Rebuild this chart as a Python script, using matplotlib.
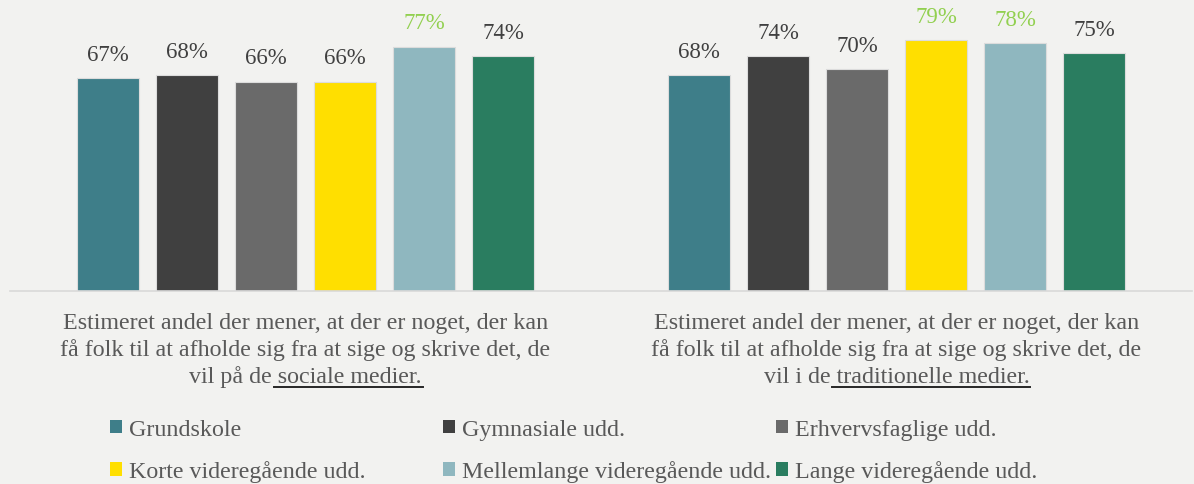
import matplotlib
matplotlib.use("Agg")
import matplotlib.pyplot as plt
from matplotlib.patches import Patch
from matplotlib.lines import Line2D
import numpy as np

# ---------------- data ----------------
groups = ["Grundskole", "Gymnasiale udd.", "Erhvervsfaglige udd.",
          "Korte videregående udd.", "Mellemlange videregående udd.",
          "Lange videregående udd."]
sociale = [67, 68, 66, 66, 77, 74]
traditionelle = [68, 74, 70, 79, 78, 75]
highlight_sociale = [False, False, False, False, True, False]
highlight_traditionelle = [False, False, False, True, True, False]
cat_line1 = ["Estimeret andel der mener, at der er noget, der kan",
             "Estimeret andel der mener, at der er noget, der kan"]
cat_line2 = ["få folk til at afholde sig fra at sige og skrive det, de",
             "få folk til at afholde sig fra at sige og skrive det, de"]
cat_prefix = ["vil på de", "vil i de"]
cat_underlined = [" sociale medier.", " traditionelle medier."]

colors = ["#3E7E89", "#404040", "#6A6A6A", "#FFDF00", "#8FB7BF", "#2A7D60"]
bg = "#F2F2F0"
W, H = 1194, 485
FONT = "Liberation Serif"
plt.rcParams["font.family"] = [FONT, "DejaVu Serif"]

fig = plt.figure(figsize=(W / 100, H / 100), dpi=100, facecolor=bg)
ax = fig.add_axes([10 / W, (H - 292) / H, 1182 / W, 292 / H])
ax.set_facecolor(bg)

series = [sociale, traditionelle]
highlights = [highlight_sociale, highlight_traditionelle]
step = 79 / 591
width = 62 / 591
for k in range(len(groups)):
    xs = np.arange(2) + (k - 2.5) * step
    vals = [series[c][k] for c in range(2)]
    bars = ax.bar(xs, vals, width=width, color=colors[k],
                  edgecolor="#DCDCDC", linewidth=0.8, zorder=2)
    for c, b in enumerate(bars):
        col = "#92D050" if highlights[c][k] else "#404040"
        ax.annotate(f"{vals[c]}%", (b.get_x() + b.get_width() / 2, b.get_height()),
                    xytext=(0, 9.5), textcoords="offset points", ha="center",
                    va="bottom", fontsize=16.5, color=col)

ax.set_xlim(-0.5, 1.5)
ax.set_ylim(0, 92)
for s in ["left", "right", "top"]:
    ax.spines[s].set_visible(False)
ax.spines["bottom"].set_color("#D9D9D9")
ax.spines["bottom"].set_linewidth(1.2)
ax.set_xticks([])
ax.set_yticks([])

# category labels
fig.canvas.draw()
renderer = fig.canvas.get_renderer()
txtcol = "#595959"
fs = 17.3
def fy(ypix):
    return (H - ypix) / H
for c in range(2):
    xd = ax.transData.transform((c, 0))[0]
    xf = xd / W
    fig.text(xf, fy(329), cat_line1[c], ha="center", va="baseline",
             fontsize=fs, color=txtcol)
    fig.text(xf, fy(356), cat_line2[c], ha="center", va="baseline",
             fontsize=fs, color=txtcol)
    t3 = fig.text(xf, fy(383), cat_prefix[c] + cat_underlined[c], ha="center",
                  va="baseline", fontsize=fs, color=txtcol)
    tmp = fig.text(0, 0, cat_prefix[c], fontsize=fs)
    ext = t3.get_window_extent(renderer)
    pw = tmp.get_window_extent(renderer).width
    tmp.remove()
    x0 = (ext.x0 + pw + 2) / W
    x1 = (ext.x1 + 1) / W
    fig.add_artist(Line2D([x0, x1], [fy(388), fy(388)], color="#262626",
                          linewidth=1.4, transform=fig.transFigure))

# legend (three columns)
col_x = [110, 443, 776]
for j in range(3):
    idx = [j, j + 3]
    handles = [Patch(facecolor=colors[i], edgecolor="none") for i in idx]
    labels = [groups[i] for i in idx]
    leg = fig.legend(handles, labels, loc="upper left",
                     bbox_to_anchor=(col_x[j] / W, fy(420)),
                     frameon=False, borderpad=0, borderaxespad=0,
                     handlelength=0.5, handleheight=0.5, handletextpad=0.27,
                     labelspacing=0.85, prop={"size": 17.3})
    for t in leg.get_texts():
        t.set_color(txtcol)

fig.savefig("out.png", dpi=100, facecolor=bg)
